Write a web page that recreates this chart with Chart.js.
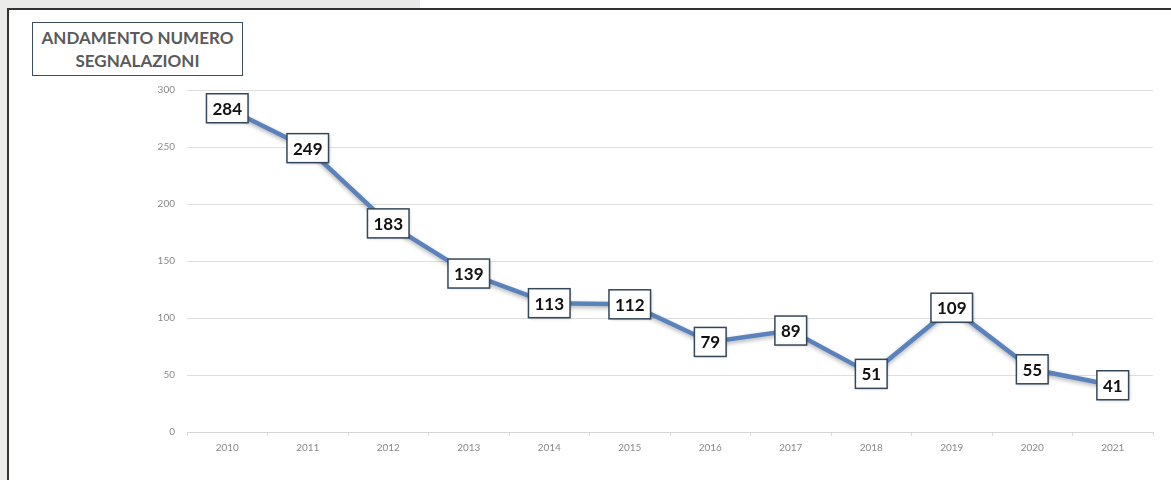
<!DOCTYPE html>
<html>
<head>
<meta charset="utf-8">
<script src="https://cdn.jsdelivr.net/npm/chart.js@4.4.1/dist/chart.umd.min.js"></script>
<style>
  html, body { margin:0; padding:0; width:1171px; height:480px; overflow:hidden; background:#ebebe9; }
  #topwhite { position:absolute; left:420px; top:0; width:751px; height:8px; background:#fff; }
  #panel { position:absolute; left:7px; top:8px; width:1164px; height:472px; background:#fff;
           border-left:2px solid #333; border-top:2px solid #333; box-sizing:border-box; }
  #wrap { position:absolute; left:0; top:0; width:1171px; height:480px; }
  #title { position:absolute; left:32px; top:22px; width:211px; height:54px; box-sizing:border-box;
           border:1.5px solid #3a4d61; background:#fff; color:#5a5a5a;
           font-family:Lato, "Open Sans", sans-serif; font-weight:bold; font-size:17px;
           line-height:23px; text-align:center; padding-top:3px; }
</style>
</head>
<body>
<div id="topwhite"></div>
<div id="panel"></div>
<div id="wrap"><canvas id="c" width="1171" height="480"></canvas></div>
<div id="title">ANDAMENTO NUMERO<br>SEGNALAZIONI</div>
<script>
const years = ["2010","2011","2012","2013","2014","2015","2016","2017","2018","2019","2020","2021"];
const segnalazioni = [284, 249, 183, 139, 113, 112, 79, 89, 51, 109, 55, 41];
const yTicks = [0, 50, 100, 150, 200, 250, 300];

const labelBoxes = {
  id: 'labelBoxes',
  afterDatasetsDraw(chart) {
    const ctx = chart.ctx;
    const meta = chart.getDatasetMeta(0);
    ctx.save();
    ctx.font = 'bold 17px Lato, "Open Sans", sans-serif';
    ctx.textAlign = 'center';
    ctx.textBaseline = 'middle';
    meta.data.forEach((pt, i) => {
      const txt = String(chart.data.datasets[0].data[i]);
      const w = ctx.measureText(txt).width + 12;
      const h = 29;
      const x = pt.x - w / 2, y = pt.y - h / 2;
      ctx.shadowColor = 'rgba(0,0,0,0.25)';
      ctx.shadowBlur = 3;
      ctx.shadowOffsetX = 1;
      ctx.shadowOffsetY = 1;
      ctx.fillStyle = '#ffffff';
      ctx.fillRect(x, y, w, h);
      ctx.shadowColor = 'transparent';
      ctx.lineWidth = 1.5;
      ctx.strokeStyle = '#34475b';
      ctx.strokeRect(x, y, w, h);
      ctx.fillStyle = '#111111';
      ctx.fillText(txt, pt.x, pt.y + 1);
    });
    ctx.restore();
  }
};

const lineShadow = {
  id: 'lineShadow',
  beforeDatasetDraw(chart) {
    const ctx = chart.ctx;
    ctx.save();
    ctx.shadowColor = 'rgba(0,0,0,0.3)';
    ctx.shadowBlur = 4;
    ctx.shadowOffsetY = 2;
  },
  afterDatasetDraw(chart) { chart.ctx.restore(); }
};

new Chart(document.getElementById('c'), {
  type: 'line',
  data: {
    labels: years,
    datasets: [{
      data: segnalazioni,
      borderColor: '#5a82bc',
      borderWidth: 4.5,
      pointRadius: 0,
      tension: 0,
      fill: false
    }]
  },
  options: {
    responsive: false,
    animation: false,
    events: [],
    layout: { padding: { left: 140, right: 18, top: 90, bottom: 26 } },
    plugins: { legend: { display: false }, tooltip: { enabled: false }, title: { display: false } },
    scales: {
      x: {
        offset: true,
        afterFit: s => { s.height = 22; },
        grid: { display: true, drawOnChartArea: false, drawTicks: true, tickLength: 4, color: '#dcdcdc', offset: true },
        border: { display: true, color: '#d6d6d6', width: 1 },
        ticks: { color: '#8a8a8a', font: { family: 'Lato, sans-serif', size: 10 }, padding: 6, maxRotation: 0 }
      },
      y: {
        min: 0, max: 300,
        afterFit: s => { s.width = 47; },
        afterBuildTicks: s => { s.ticks = yTicks.map(v => ({ value: v })); },
        grid: { color: '#dedede', lineWidth: 1, drawTicks: false },
        border: { display: false },
        ticks: { color: '#8a8a8a', font: { family: 'Lato, sans-serif', size: 10 }, padding: 12 }
      }
    }
  },
  plugins: [lineShadow, labelBoxes]
});
</script>
</body>
</html>
